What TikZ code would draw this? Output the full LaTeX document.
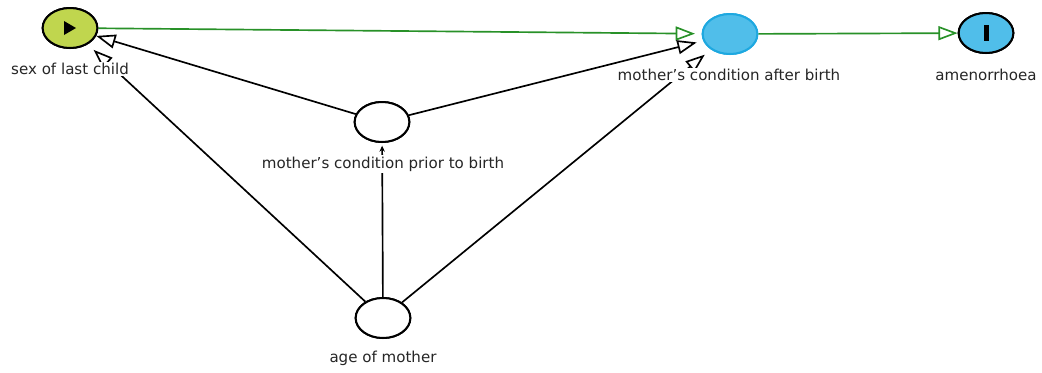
\documentclass[tikz,border=0pt]{standalone}
\usepackage{fontspec}
\setmainfont{DejaVu Sans}
\usetikzlibrary{arrows.meta,shapes.geometric,calc}
\definecolor{exposurefill}{RGB}{192,214,78}
\definecolor{outcomefill}{RGB}{80,190,234}
\definecolor{outcomeline}{RGB}{30,168,224}
\definecolor{pathgreen}{RGB}{40,145,40}
\newcommand{\apos}{\char"0027\relax}
\tikzset{
  var/.style={ellipse, draw=black, fill=white, line width=1.5pt,
    minimum width=41pt, minimum height=30pt, inner sep=0pt},
  exposure/.style={var, fill=exposurefill},
  outcome/.style={var, fill=outcomefill},
  latent/.style={var, draw=outcomeline, fill=outcomefill},
  lbl/.style={fill=white, inner sep=1pt, font=\fontsize{11.3}{13}\selectfont, text=black!85},
  edge/.style={line width=1.25pt, -{Triangle[open, length=14.5pt, width=10.5pt, line width=1.25pt]}},
  causal/.style={edge, draw=pathgreen},
  small/.style={line width=1.25pt, -{Stealth[length=4.5pt, width=4pt]}}
}
\begin{document}
\begin{tikzpicture}[x=0.75pt, y=-0.75pt]
\useasboundingbox (0,0) rectangle (1042,372);

% variables
\node[exposure] (sex) at (70,28) {};
\node[latent] (after) at (730,34) {};
\node[outcome] (amen) at (986,33) {};
\node[var] (prior) at (382,122) {};
\node[var] (age) at (383,318) {};

% edges
\draw[causal, shorten >=5pt] (sex) -- (after);
\draw[causal] (after) -- (amen);
\draw[edge] (prior) -- (sex);
\draw[edge, shorten >=5pt] (prior) -- (after);
\draw[edge, shorten >=6pt] (age) -- (sex);
\draw[edge, shorten >=6pt] (age) -- (after);
\draw[small, shorten >=2pt] (age) -- (prior);

% labels on top of the edges
\node[lbl] (lsex) at (70,69) {sex of last child};
\node[lbl] (lafter) at (729,75) {mother\apos s condition after birth};
\node[lbl] (lamen) at (986,75) {amenorrhoea};
\node[lbl] (lprior) at (383,164) {mother\apos s condition prior to birth};
\node[lbl] (lage) at (383,358) {age of mother};

% redraw nodes over edges
\node[exposure] at (sex) {};
\node[latent] at (after) {};
\node[outcome] at (amen) {};
\node[var] at (prior) {};
\node[var] at (age) {};

% markers
\fill[black] ($(sex)+(-6,-7)$) -- ($(sex)+(6,0)$) -- ($(sex)+(-6,7)$) -- cycle;
\fill[black] ($(amen)+(-2.5,-8)$) rectangle ($(amen)+(2.5,8)$);
\end{tikzpicture}
\end{document}
